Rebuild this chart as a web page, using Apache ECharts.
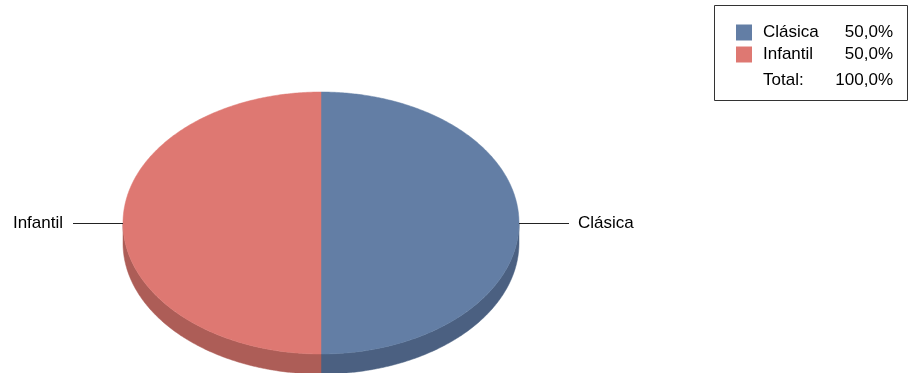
<!DOCTYPE html>
<html>
<head>
<meta charset="utf-8">
<script src="https://cdn.jsdelivr.net/npm/echarts@6/dist/echarts.min.js"></script>
<style>html,body{margin:0;padding:0;background:#fff}#c{width:909px;height:373px}</style>
</head>
<body>
<div id="c"></div>
<script>
const categories = ['Clásica', 'Infantil'];
const values = [50, 50];
const totalLabel = 'Total:';

const topColors = ['#637EA5', '#DE7872'];
const sideColors = ['#4B6081', '#AD5D57'];
const FONT = '"Liberation Sans", Arial, sans-serif';

const total = values.reduce((a, b) => a + b, 0);
function fmtPct(v) { return (v / total * 100).toFixed(1).replace('.', ',') + '%'; }

const CX = 321, CY = 223, RX = 198, RY = 131, DEPTH = 20;

function arcPoints(a, b, dy) {
  const pts = [];
  const n = Math.max(2, Math.ceil(Math.abs(b - a) / 0.01));
  for (let i = 0; i <= n; i++) {
    const t = a + (b - a) * i / n;
    pts.push([CX + RX * Math.cos(t), CY + RY * Math.sin(t) + dy]);
  }
  return pts;
}

function renderSlice(params, api) {
  const k = params.seriesIndex;
  let before = 0;
  for (let i = 0; i < k; i++) before += values[i];
  const v = api.value(0);
  const a = -Math.PI / 2 + before / total * 2 * Math.PI;
  const b = a + v / total * 2 * Math.PI;
  const children = [];
  const ranges = [[0, Math.PI], [2 * Math.PI, 3 * Math.PI], [-2 * Math.PI, -Math.PI]];
  ranges.forEach(r => {
    const s = Math.max(a, r[0]), e = Math.min(b, r[1]);
    if (e > s) {
      const upper = arcPoints(s, e, 0);
      const lower = arcPoints(s, e, DEPTH).reverse();
      children.push({ type: 'polygon', shape: { points: upper.concat(lower) },
        style: { fill: sideColors[k], stroke: sideColors[k], lineWidth: 0.5 } });
    }
  });
  const topPts = [[CX, CY]].concat(arcPoints(a, b, 0));
  children.push({ type: 'polygon', shape: { points: topPts },
    style: { fill: topColors[k], stroke: topColors[k], lineWidth: 0.5 } });
  const m = (a + b) / 2;
  const ex = CX + RX * Math.cos(m), ey = CY + RY * Math.sin(m);
  const ly = Math.round(ey) + 0.5;
  const dir = Math.cos(m) >= 0 ? 1 : -1;
  const lx = ex + dir * 50;
  children.push({ type: 'line', shape: { x1: ex, y1: ly, x2: lx, y2: ly },
    style: { stroke: '#222', lineWidth: 1 } });
  children.push({ type: 'text', style: { x: lx + dir * (dir > 0 ? 9 : 10), y: ey, text: categories[k],
    textAlign: dir > 0 ? 'left' : 'right', textVerticalAlign: 'middle',
    font: '17px ' + FONT, fill: '#000' } });
  return { type: 'group', children: children };
}

const series = categories.map((name, i) => ({
  type: 'custom',
  name: name,
  coordinateSystem: 'none',
  renderItem: renderSlice,
  itemStyle: { color: topColors[i] },
  data: [[values[i]]],
  silent: true,
  animation: false
}));

const chart = echarts.init(document.getElementById('c'));
chart.setOption({
  animation: false,
  legend: {
    orient: 'vertical', left: 736, top: 24, padding: 0,
    itemWidth: 16, itemHeight: 16, itemGap: 5, icon: 'rect',
    data: categories,
    formatter: name => '{n|' + name + '}{v|' + fmtPct(values[categories.indexOf(name)]) + '}',
    textStyle: {
      fontFamily: FONT, fontSize: 17, color: '#000', padding: [0, 0, 0, 6],
      rich: {
        n: { width: 78, fontSize: 17, fontFamily: FONT, color: '#000', lineHeight: 16 },
        v: { width: 52, align: 'right', fontSize: 17, fontFamily: FONT, color: '#000', lineHeight: 16 }
      }
    },
    selectedMode: false
  },
  graphic: [
    { type: 'rect', shape: { x: 714.5, y: 5.5, width: 193, height: 95 },
      style: { fill: 'none', stroke: '#333', lineWidth: 1 }, silent: true },
    { type: 'text', style: { x: 763, y: 80, text: totalLabel, font: '17px ' + FONT,
      fill: '#000', textVerticalAlign: 'middle' } },
    { type: 'text', style: { x: 893, y: 80, text: fmtPct(total), font: '17px ' + FONT,
      fill: '#000', textAlign: 'right', textVerticalAlign: 'middle' } }
  ],
  series: series
});
</script>
</body>
</html>
